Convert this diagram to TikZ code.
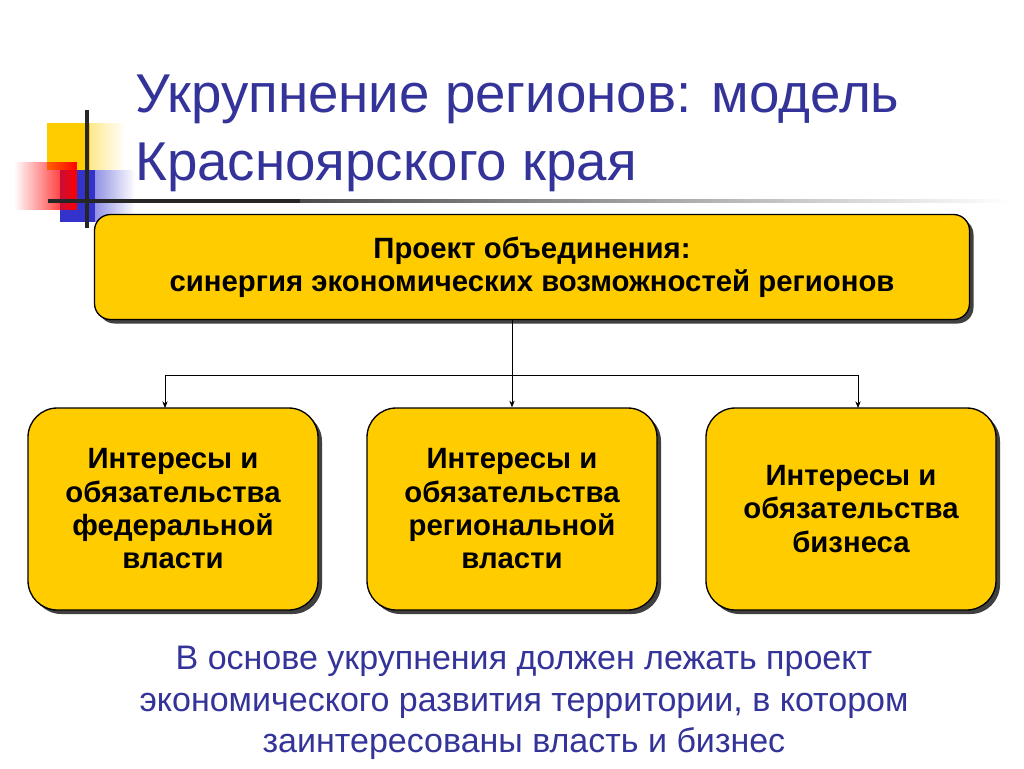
\documentclass[tikz,border=0pt]{standalone}
\usepackage{fontspec}
\setmainfont{Liberation Sans}
\usetikzlibrary{fadings,shadows,arrows.meta}
\definecolor{ttl}{HTML}{333399}
\definecolor{yb}{HTML}{FFCC00}
\definecolor{bl}{HTML}{3333CC}
\tikzset{
 box/.style={draw=black, line width=1pt, fill=yb, rounded corners=12pt, drop shadow={shadow xshift=3pt, shadow yshift=-3pt, fill=black!75, opacity=1}, align=center, font=\bfseries\fontsize{22}{25}\selectfont},
 arr/.style={-{Stealth[length=5pt,width=4pt]}, line width=0.6pt}
}
\begin{document}
\begin{tikzpicture}[x=0.75pt,y=-0.75pt]
\useasboundingbox (0,0) rectangle (1024,768);
% decoration
\fill[yb, path fading=east] (47,123) rectangle (125,170);
\fill[yb] (47,123) rectangle (90,170);
\fill[bl, path fading=east] (60,170) rectangle (135,222);
\fill[bl] (60,170) rectangle (95,222);
\fill[red, path fading=west] (14,162) rectangle (77,210);
\fill[black!85] (48,199) rectangle (300,203);
\fill[black!70, path fading=east] (300,199) rectangle (1010,203);
\fill[black!85] (85,110) rectangle (89,228);
% title
\node[anchor=base west, text=ttl, font=\fontsize{41}{45}\selectfont, inner sep=0] (t1) at (135,112) {Укрупнение регионов: модель};
\node[anchor=base west, text=ttl, font=\fontsize{41}{45}\selectfont, inner sep=0] (t2) at (135,180) {Красноярского края};
% boxes
\node[box, minimum width=875*0.75pt, minimum height=105*0.75pt] (top) at (532,267) {Проект объединения:\\синергия экономических возможностей регионов};
\node[box, minimum width=290*0.75pt, minimum height=202*0.75pt, rounded corners=22pt] (b1) at (173,509) {Интересы и\\обязательства\\федеральной\\власти};
\node[box, minimum width=290*0.75pt, minimum height=202*0.75pt, rounded corners=22pt] (b2) at (512,509) {Интересы и\\обязательства\\региональной\\власти};
\node[box, minimum width=290*0.75pt, minimum height=202*0.75pt, rounded corners=22pt] (b3) at (851,509) {Интересы и\\обязательства\\бизнеса};
% connectors
\coordinate (j) at (512,375);
\draw[line width=0.6pt] (top.south -| j) -- (j);
\draw[line width=0.6pt] (165,375) -- (858,375);
\draw[arr] (165,375) -- (165,408);
\draw[arr] (j) -- (b2.north);
\draw[arr] (858,375) -- (858,408);
% bottom
\node[text=ttl, align=center, font=\fontsize{25.5}{31}\selectfont] (bt) at (524,703) {В основе укрупнения должен лежать проект\\экономического развития территории, в котором\\заинтересованы власть и бизнес};
\end{tikzpicture}
\end{document}
